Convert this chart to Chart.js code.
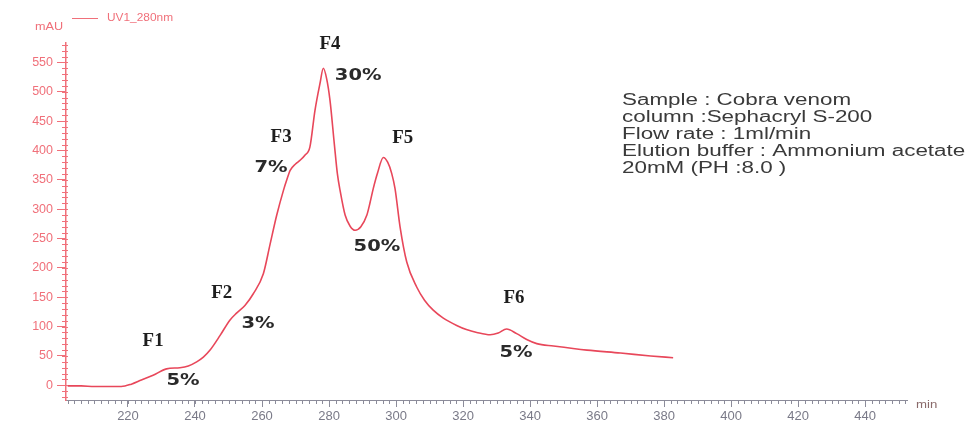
<!DOCTYPE html>
<html>
<head>
<meta charset="utf-8">
<script src="https://cdn.jsdelivr.net/npm/chart.js@4.4.0/dist/chart.umd.min.js"></script>
<style>
  html, body { margin: 0; padding: 0; background: #fff; }
  #wrap { width: 974px; height: 424px; position: relative; }
</style>
</head>
<body>
<div id="wrap"><canvas id="chrom" width="974" height="424"></canvas></div>
<script>
// elution time (min) and UV 280nm absorbance (mAU)
const times = [202, 206, 210, 214, 218, 221, 224, 227.5, 231.5, 235.5, 238, 240.5, 242.5, 244.5,
  247.5, 250.4, 252.4, 254.9, 257.4, 260.4, 262.4, 264.4, 266.4, 267.4, 268.4, 270, 271.3, 272.8,
  274.3, 275.8, 277.3, 278.3, 279.3, 280.3, 281.6, 282.5, 283.3, 284.8, 286.3, 287.8, 289.5, 291.3,
  292.2, 293.2, 294.5, 296.2, 297.5, 298.7, 299.7, 301.2, 303.2, 306.2, 308.5, 311.1, 314, 318.1,
  321, 324.1, 328.1, 330.5, 333, 336, 339, 342, 347, 357, 367, 376, 382.7];
const absorbance = [-1, -1, -2, -2, -2, 2, 9, 17, 28, 30, 33, 40, 48, 60,
  85, 111, 123, 136, 156, 190, 240, 290, 332, 350, 366, 377, 383, 392,
  406, 468, 514, 540, 522, 485, 410, 360, 332, 290, 271, 264, 270, 290,
  310, 335, 362, 388, 380, 361, 335, 270, 210, 167, 145, 128, 115, 102,
  95, 90, 86, 89, 96, 88, 78, 71, 67, 60, 55, 50, 47];

const xTicks = [220, 240, 260, 280, 300, 320, 340, 360, 380, 400, 420, 440];
const yTicks = [0, 50, 100, 150, 200, 250, 300, 350, 400, 450, 500, 550];

// fraction names and yields, with where they sit on the plot (min, mAU)
const fractions = ['F1', 'F2', 'F3', 'F4', 'F5', 'F6'];
const fractionAt = [[227.5, 75], [248, 157], [265.7, 422], [280.3, 581], [302, 421], [335.2, 148]];
const yields = ['5%', '3%', '7%', '30%', '50%', '5%'];
const yieldAt = [[236.4, 7], [258.8, 104], [262.7, 370], [288.7, 526], [294.3, 235], [335.8, 55]];

const infoLines = ['Sample : Cobra venom', 'column :Sephacryl S-200', 'Flow rate : 1ml/min',
  'Elution buffer : Ammonium acetate', '20mM (PH :8.0 )'];

const RED = '#e8475a';
const PINK = '#f0707a';
const GREY = '#8c8c9a';

// the source picture is stretched sideways, so text is too
function wideText(ctx, text, x, y, sx, align) {
  ctx.save();
  ctx.translate(x, y);
  ctx.scale(sx, 1);
  ctx.textAlign = align;
  ctx.fillText(text, 0, 0);
  ctx.restore();
}

const decor = {
  id: 'decor',
  afterDraw(chart) {
    const { ctx, scales: { x, y } } = chart;
    ctx.save();

    // minor ticks
    ctx.lineWidth = 1;
    ctx.strokeStyle = GREY;
    for (let v = 202; v <= 452; v += 2) {
      const px = Math.round(x.getPixelForValue(v)) + 0.5;
      ctx.beginPath();
      ctx.moveTo(px, y.bottom);
      ctx.lineTo(px, y.bottom + 4);
      ctx.stroke();
    }
    ctx.strokeStyle = PINK;
    for (let v = -20; v <= 580; v += 10) {
      const py = Math.round(y.getPixelForValue(v)) + 0.5;
      ctx.beginPath();
      ctx.moveTo(x.left - 4, py);
      ctx.lineTo(x.left + 2, py);
      ctx.stroke();
    }

    // legend / units
    ctx.font = '11px "Liberation Sans", Arial, sans-serif';
    ctx.textBaseline = 'middle';
    ctx.fillStyle = PINK;
    wideText(ctx, 'mAU', 35, 27, 1.15, 'left');
    ctx.strokeStyle = PINK;
    ctx.beginPath();
    ctx.moveTo(72, 18.5);
    ctx.lineTo(98, 18.5);
    ctx.stroke();
    wideText(ctx, 'UV1_280nm', 107, 18, 1.08, 'left');
    ctx.fillStyle = '#8a6a6a';
    wideText(ctx, 'min', 916, 405, 1.2, 'left');

    // fraction labels
    ctx.fillStyle = '#1e1e1e';
    ctx.font = 'bold 18px "Liberation Serif", "DejaVu Serif", serif';
    fractions.forEach((f, i) => {
      wideText(ctx, f, x.getPixelForValue(fractionAt[i][0]), y.getPixelForValue(fractionAt[i][1]), 1.05, 'center');
    });
    ctx.fillStyle = '#2a2a2a';
    ctx.font = 'bold 15px "DejaVu Sans", Verdana, sans-serif';
    yields.forEach((t, i) => {
      wideText(ctx, t, x.getPixelForValue(yieldAt[i][0]), y.getPixelForValue(yieldAt[i][1]), 1.3, 'center');
    });

    // run conditions
    ctx.fillStyle = '#3a3a3a';
    ctx.font = '16px "Liberation Sans", Arial, sans-serif';
    infoLines.forEach((t, i) => wideText(ctx, t, 622, 101 + i * 17, 1.4, 'left'));

    ctx.restore();
  }
};

new Chart(document.getElementById('chrom'), {
  type: 'line',
  data: {
    datasets: [{
      label: 'UV1_280nm',
      data: times.map((t, i) => ({ x: t, y: absorbance[i] })),
      borderColor: RED,
      borderWidth: 1.6,
      pointRadius: 0,
      fill: false,
      cubicInterpolationMode: 'monotone'
    }]
  },
  options: {
    responsive: false,
    animation: false,
    layout: { padding: { top: 43, right: 67, left: 0, bottom: 0 } },
    plugins: { legend: { display: false }, tooltip: { enabled: false } },
    scales: {
      x: {
        type: 'linear',
        min: 201.5,
        max: 452.5,
        afterBuildTicks: s => { s.ticks = xTicks.map(v => ({ value: v })); },
        afterFit: s => { s.height = 24; },
        grid: { drawOnChartArea: false, tickLength: 7, color: GREY },
        border: { color: GREY, width: 1 },
        ticks: { color: '#7a7a88', padding: 2, maxRotation: 0, font: { size: 13, family: '"Liberation Sans", Arial' } }
      },
      y: {
        min: -25,
        max: 583,
        afterBuildTicks: s => { s.ticks = yTicks.map(v => ({ value: v })); },
        afterFit: s => { s.width = 66; },
        grid: { drawOnChartArea: false, tickLength: 9, color: PINK },
        border: { color: PINK, width: 1.5 },
        ticks: { color: PINK, padding: 4, font: { size: 12.5, family: '"Liberation Sans", Arial' } }
      }
    }
  },
  plugins: [decor]
});
</script>
</body>
</html>
